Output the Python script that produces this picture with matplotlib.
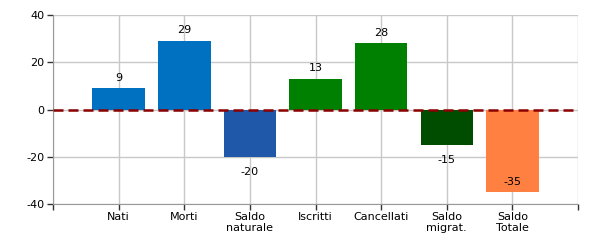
import matplotlib
matplotlib.use("Agg")
import matplotlib.pyplot as plt

categories = ["Nati", "Morti", "Saldo\nnaturale", "Iscritti", "Cancellati", "Saldo\nmigrat.", "Saldo\nTotale"]
values = [9, 29, -20, 13, 28, -15, -35]
colors = ["#0070C0", "#0070C0", "#1F58A8", "#008000", "#008000", "#004D00", "#FF8040"]
yticks = [-40, -20, 0, 20, 40]

fig = plt.figure(figsize=(6, 2.5), dpi=100)
ax = fig.add_axes([53/600, 1-204/250, (578-53)/600, (204-15)/250])

x = list(range(1, len(categories) + 1))
ax.bar(x, values, width=0.8, color=colors, zorder=2)
ax.set_xlim(0, 8)
ax.set_ylim(-40, 40)
ax.set_yticks(yticks)
ax.set_yticklabels([str(t) for t in yticks], fontsize=8)
ax.set_xticks(range(0, 9))
ax.set_xticklabels([""] + categories + [""], fontsize=8, linespacing=1.05)
ax.grid(True, color="#c8c8c8", linewidth=1, zorder=0)
ax.axhline(0, color="#8B0000", linestyle=(0, (4, 2)), linewidth=1.8, zorder=3)

for s in ["top", "right"]:
    ax.spines[s].set_visible(False)
for s in ["left", "bottom"]:
    ax.spines[s].set_color("#999999")
ax.tick_params(axis="both", color="#333333", length=4, width=1, pad=2)

for xi, v in zip(x, values):
    if v >= 0:
        ax.annotate(str(v), (xi, v), xytext=(0, 4), textcoords="offset points",
                    ha="center", va="bottom", fontsize=8)
    else:
        ty = max(v - 6.4, -30.6)
        ax.text(xi, ty, str(v), ha="center", va="center", fontsize=8, zorder=4)

fig.savefig("out.png", dpi=100)
